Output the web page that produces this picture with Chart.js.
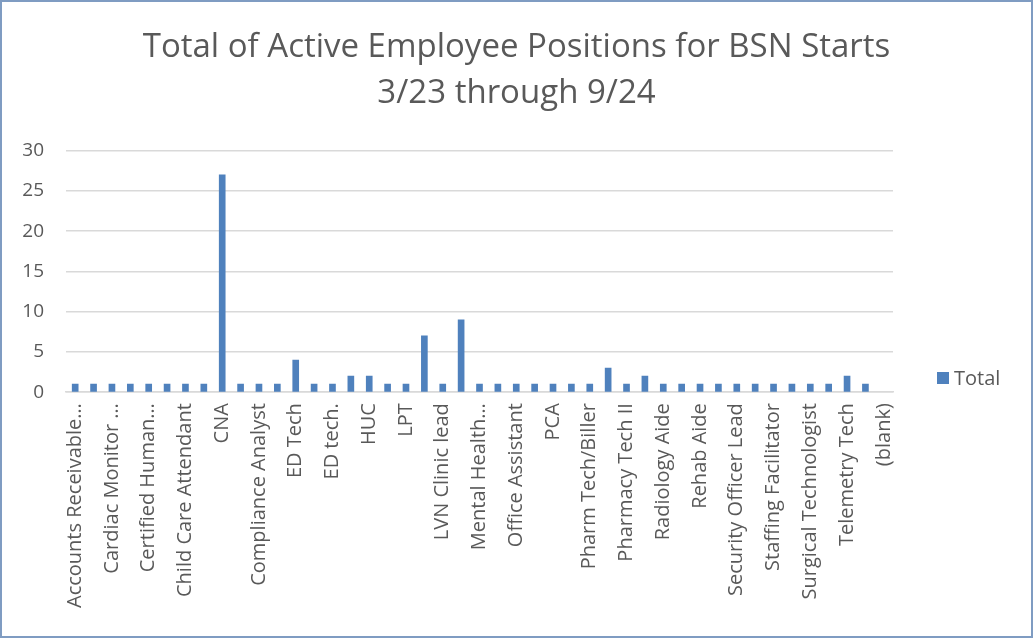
<!DOCTYPE html>
<html>
<head>
<meta charset="utf-8">
<script src="https://cdn.jsdelivr.net/npm/chart.js@4"></script>
<style>
  html, body { margin: 0; padding: 0; background: #fff; }
  #wrap { width: 1033px; height: 638px; box-sizing: border-box; border: 2px solid #7f9cc2; background: #fff; }
</style>
</head>
<body>
<div id="wrap"><canvas id="c" width="1029" height="634"></canvas></div>
<script>
// positions (categories), as in the pivot table
const positions = [
  'Accounts Receivable…', 'Anesthesia Tech', 'Cardiac Monitor …', 'Cath Lab Tech',
  'Certified Human…', 'Certified Pharmacy Tech', 'Child Care Attendant', 'Clinical Assistant',
  'CNA', 'Communications Specialist', 'Compliance Analyst', 'Dietary Aide',
  'ED Tech', 'ED Tech II', 'ED tech.', 'EKG Tech',
  'HUC', 'Lab Assistant', 'LPT', 'LVN',
  'LVN Clinic lead', 'MA', 'Mental Health…', 'Monitor Tech',
  'Office Assistant', 'Patient Access Rep', 'PCA', 'Pharm Tech',
  'Pharm Tech/Biller', 'Pharmacy Tech', 'Pharmacy Tech II', 'Phlebotomist',
  'Radiology Aide', 'Registration Clerk', 'Rehab Aide', 'Respiratory Tech',
  'Security Officer Lead', 'Sitter', 'Staffing Facilitator', 'Sterile Processing Tech',
  'Surgical Technologist', 'Surgical Tech', 'Telemetry Tech', 'Unit Secretary',
  '(blank)'
];
const totals = [
  1, 1, 1, 1, 1, 1, 1, 1,
  27, 1, 1, 1, 4, 1, 1, 2,
  2, 1, 1, 7, 1, 9, 1, 1,
  1, 1, 1, 1, 1, 3, 1, 2,
  1, 1, 1, 1, 1, 1, 1, 1,
  1, 1, 2, 1, null
];
const yTicks = [0, 5, 10, 15, 20, 25, 30];

const FONT = "'Open Sans', sans-serif";
const GREY = '#595959';
const BLUE = '#4f81bd';

// Excel-style legend sitting to the right of the plot
const sideLegend = {
  id: 'sideLegend',
  afterDraw(chart) {
    const ctx = chart.ctx;
    const ds = chart.data.datasets[0];
    const x = chart.chartArea.right + 44;
    const y = 376;
    ctx.save();
    ctx.fillStyle = ds.backgroundColor;
    ctx.fillRect(x, y - 6, 12, 12);
    ctx.fillStyle = GREY;
    ctx.font = '20px ' + FONT;
    ctx.textBaseline = 'middle';
    ctx.fillText(ds.label, x + 17, y + 1);
    ctx.restore();
  }
};

new Chart(document.getElementById('c'), {
  type: 'bar',
  data: {
    labels: positions,
    datasets: [{
      label: 'Total',
      data: totals,
      backgroundColor: BLUE,
      barThickness: 6
    }]
  },
  options: {
    responsive: false,
    animation: false,
    layout: { padding: { left: 0, right: 0, top: 0, bottom: 25 } },
    plugins: {
      legend: { display: false },
      tooltip: { enabled: false },
      title: {
        display: true,
        text: ['Total of Active Employee Positions for BSN Starts', '3/23 through 9/24'],
        color: GREY,
        font: { family: FONT, size: 33, weight: 'normal', lineHeight: 1.39 },
        padding: { top: 23, bottom: 34 }
      }
    },
    scales: {
      x: {
        grid: { display: false },
        border: { color: '#d9d9d9', width: 1.5 },
        ticks: {
          autoSkip: false,
          minRotation: 90,
          maxRotation: 90,
          padding: 3,
          color: GREY,
          font: { family: FONT, size: 20 },
          callback: (v, i) => (i % 2 === 0 ? positions[i] : '')
        }
      },
      y: {
        min: 0,
        max: 30,
        afterBuildTicks: s => { s.ticks = yTicks.map(v => ({ value: v })); },
        afterFit: s => { s.width = 64; },
        grid: { color: '#d9d9d9', lineWidth: 1.5, drawTicks: false },
        border: { display: false },
        ticks: {
          padding: 22,
          color: GREY,
          font: { family: FONT, size: 19 }
        }
      },
      // empty strip on the right that holds the legend
      legendSpace: {
        axis: 'y',
        position: 'right',
        grid: { display: false },
        border: { display: false },
        ticks: { display: false },
        afterFit: s => { s.width = 138; }
      }
    }
  },
  plugins: [sideLegend]
});
</script>
</body>
</html>
